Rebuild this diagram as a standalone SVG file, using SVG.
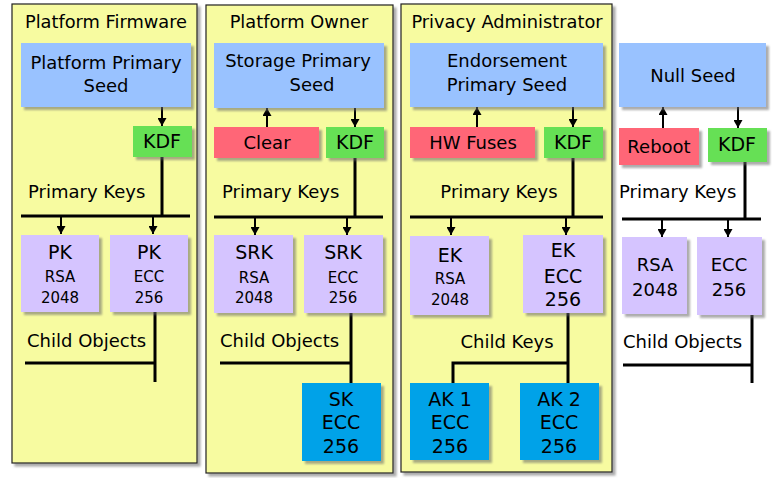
<svg xmlns="http://www.w3.org/2000/svg" width="776" height="478" viewBox="0 0 776 478">
<defs>
<filter id="sh" x="-10%" y="-10%" width="130%" height="130%">
<feDropShadow dx="3" dy="3" stdDeviation="1" flood-color="#666" flood-opacity="0.55"/>
</filter>
<marker id="ah" markerUnits="userSpaceOnUse" markerWidth="9" markerHeight="9" refX="8" refY="4.5" orient="auto">
<path d="M0,0 L8,4.5 L0,9 z" fill="#000"/>
</marker>
<style>
text{font-family:"DejaVu Sans","Liberation Sans",sans-serif;fill:#000;text-anchor:middle}
.t{font-size:17.8px}
.m{font-size:18px}
.c{font-size:19px}
.s{font-size:15px}
.l{text-anchor:start}
.panel{fill:#F7FBA0;stroke:#222;stroke-width:1.2;filter:url(#sh)}
.seed{fill:#99C2FF;filter:url(#sh)}
.kdf{fill:#66E055;filter:url(#sh)}
.red{fill:#FF6677;filter:url(#sh)}
.pk{fill:#D5C4FF;filter:url(#sh)}
.ck{fill:#00A2E8;filter:url(#sh)}
.th{stroke:#000;stroke-width:3;fill:none}
.ar{stroke:#000;stroke-width:2;fill:none;marker-end:url(#ah)}
</style>
</defs>
<rect width="776" height="478" fill="#fff"/>

<g id="panel-firmware">
<rect class="panel" x="12" y="4" width="185" height="459"/>
<text class="t" x="106" y="28">Platform Firmware</text>
</g>
<g id="panel-owner">
<rect class="panel" x="206" y="5" width="187" height="468"/>
<text class="t" x="299" y="28">Platform Owner</text>
</g>
<g id="panel-privacy">
<rect class="panel" x="401" y="4" width="211" height="468"/>
<text class="t" x="507" y="28">Privacy Administrator</text>
</g>

<g id="connectors">
<!-- panel 1 -->
<line class="ar" x1="162" y1="107" x2="162" y2="126"/>
<line class="th" x1="162" y1="157" x2="162" y2="217"/>
<line class="th" x1="21" y1="216" x2="190" y2="216"/>
<line class="ar" x1="61" y1="216" x2="61" y2="234"/>
<line class="ar" x1="153" y1="216" x2="153" y2="234"/>
<line class="th" x1="155" y1="312" x2="155" y2="382"/>
<line class="th" x1="25" y1="363" x2="155" y2="363"/>
<!-- panel 2 -->
<line class="ar" x1="267" y1="127" x2="267" y2="108"/>
<line class="ar" x1="355" y1="108" x2="355" y2="127"/>
<line class="th" x1="355" y1="158" x2="355" y2="218"/>
<line class="th" x1="214" y1="217" x2="383" y2="217"/>
<line class="ar" x1="255" y1="217" x2="255" y2="235"/>
<line class="ar" x1="347" y1="217" x2="347" y2="235"/>
<line class="th" x1="351" y1="313" x2="351" y2="383"/>
<line class="th" x1="220" y1="363" x2="351" y2="363"/>
<!-- panel 3 -->
<line class="ar" x1="477" y1="127" x2="477" y2="107"/>
<line class="ar" x1="573" y1="107" x2="573" y2="127"/>
<line class="th" x1="573" y1="158" x2="573" y2="218"/>
<line class="th" x1="410" y1="217" x2="603" y2="217"/>
<line class="ar" x1="451" y1="217" x2="451" y2="235"/>
<line class="ar" x1="566" y1="217" x2="566" y2="235"/>
<line class="th" x1="568" y1="313" x2="568" y2="383"/>
<polyline class="th" points="568,363 453,363 453,383"/>
<!-- null -->
<line class="ar" x1="663" y1="128" x2="663" y2="107"/>
<line class="ar" x1="738" y1="107" x2="738" y2="128"/>
<line class="th" x1="745" y1="162" x2="745" y2="220"/>
<line class="th" x1="622" y1="219" x2="761" y2="219"/>
<line class="ar" x1="662" y1="219" x2="662" y2="237"/>
<line class="ar" x1="728" y1="219" x2="728" y2="237"/>
<line class="th" x1="752" y1="315" x2="752" y2="383"/>
<line class="th" x1="623" y1="365" x2="752" y2="365"/>
</g>

<!-- Panel 1 nodes -->
<g id="platform-seed">
<rect class="seed" x="21" y="43" width="170" height="64"/>
<text class="m" x="106" y="69">Platform Primary</text>
<text class="m" x="106" y="92">Seed</text>
</g>
<g id="kdf1">
<rect class="kdf" x="133" y="126" width="59" height="31"/>
<text class="c" x="162" y="148">KDF</text>
</g>
<text class="m l" x="28" y="198">Primary Keys</text>
<g id="pk-rsa">
<rect class="pk" x="21" y="235" width="78" height="77"/>
<text class="c" x="60" y="259">PK</text>
<text class="s" x="60" y="282">RSA</text>
<text class="s" x="60" y="303">2048</text>
</g>
<g id="pk-ecc">
<rect class="pk" x="110" y="235" width="78" height="77"/>
<text class="c" x="149" y="259">PK</text>
<text class="s" x="149" y="282">ECC</text>
<text class="s" x="149" y="303">256</text>
</g>
<text class="m l" x="27" y="347">Child Objects</text>

<!-- Panel 2 nodes -->
<g id="storage-seed">
<rect class="seed" x="214" y="43" width="170" height="65"/>
<text class="m" x="298" y="67">Storage Primary</text>
<text class="m" x="312" y="91">Seed</text>
</g>
<g id="clear">
<rect class="red" x="214" y="127" width="105" height="31"/>
<text class="m" x="267" y="149">Clear</text>
</g>
<g id="kdf2">
<rect class="kdf" x="326" y="127" width="58" height="31"/>
<text class="c" x="355" y="149">KDF</text>
</g>
<text class="m l" x="222" y="198">Primary Keys</text>
<g id="srk-rsa">
<rect class="pk" x="214" y="235" width="79" height="78"/>
<text class="c" x="254" y="259">SRK</text>
<text class="s" x="254" y="283">RSA</text>
<text class="s" x="254" y="303">2048</text>
</g>
<g id="srk-ecc">
<rect class="pk" x="304" y="235" width="79" height="78"/>
<text class="c" x="343" y="259">SRK</text>
<text class="s" x="343" y="283">ECC</text>
<text class="s" x="343" y="303">256</text>
</g>
<text class="m l" x="220" y="347">Child Objects</text>
<g id="sk-ecc">
<rect class="ck" x="302" y="383" width="79" height="78"/>
<text class="c" x="341" y="406">SK</text>
<text class="c" x="341" y="429">ECC</text>
<text class="c" x="341" y="453">256</text>
</g>

<!-- Panel 3 nodes -->
<g id="endorsement-seed">
<rect class="seed" x="410" y="43" width="193" height="64"/>
<text class="m" x="507" y="67">Endorsement</text>
<text class="m" x="507" y="91">Primary Seed</text>
</g>
<g id="hw-fuses">
<rect class="red" x="410" y="127" width="125" height="31"/>
<text class="m" x="473" y="149">HW Fuses</text>
</g>
<g id="kdf3">
<rect class="kdf" x="544" y="127" width="59" height="31"/>
<text class="c" x="573" y="149">KDF</text>
</g>
<text class="m" x="499" y="198">Primary Keys</text>
<g id="ek-rsa">
<rect class="pk" x="410" y="236" width="79" height="79"/>
<text class="c" x="450" y="262">EK</text>
<text class="s" x="450" y="284">RSA</text>
<text class="s" x="450" y="305">2048</text>
</g>
<g id="ek-ecc">
<rect class="pk" x="523" y="235" width="80" height="78"/>
<text class="c" x="563" y="257">EK</text>
<text class="c" x="563" y="283">ECC</text>
<text class="c" x="563" y="306">256</text>
</g>
<text class="m" x="507" y="348">Child Keys</text>
<g id="ak1">
<rect class="ck" x="410" y="383" width="79" height="77"/>
<text class="c" x="450" y="406">AK 1</text>
<text class="c" x="450" y="429">ECC</text>
<text class="c" x="450" y="453">256</text>
</g>
<g id="ak2">
<rect class="ck" x="520" y="383" width="79" height="77"/>
<text class="c" x="559" y="406">AK 2</text>
<text class="c" x="559" y="429">ECC</text>
<text class="c" x="559" y="453">256</text>
</g>

<!-- Null hierarchy -->
<g id="null-seed">
<rect class="seed" x="619" y="43" width="147" height="64"/>
<text class="m" x="693" y="82">Null Seed</text>
</g>
<g id="reboot">
<rect class="red" x="619" y="128" width="80" height="37"/>
<text class="m" x="659" y="153">Reboot</text>
</g>
<g id="kdf4">
<rect class="kdf" x="708" y="128" width="59" height="34"/>
<text class="c" x="737" y="151">KDF</text>
</g>
<text class="m l" x="619" y="198">Primary Keys</text>
<g id="null-rsa">
<rect class="pk" x="622" y="237" width="65" height="77"/>
<text class="m" x="655" y="271">RSA</text>
<text class="m" x="655" y="296">2048</text>
</g>
<g id="null-ecc">
<rect class="pk" x="697" y="237" width="65" height="78"/>
<text class="m" x="729" y="271">ECC</text>
<text class="m" x="729" y="296">256</text>
</g>
<text class="m l" x="623" y="348">Child Objects</text>
</svg>
